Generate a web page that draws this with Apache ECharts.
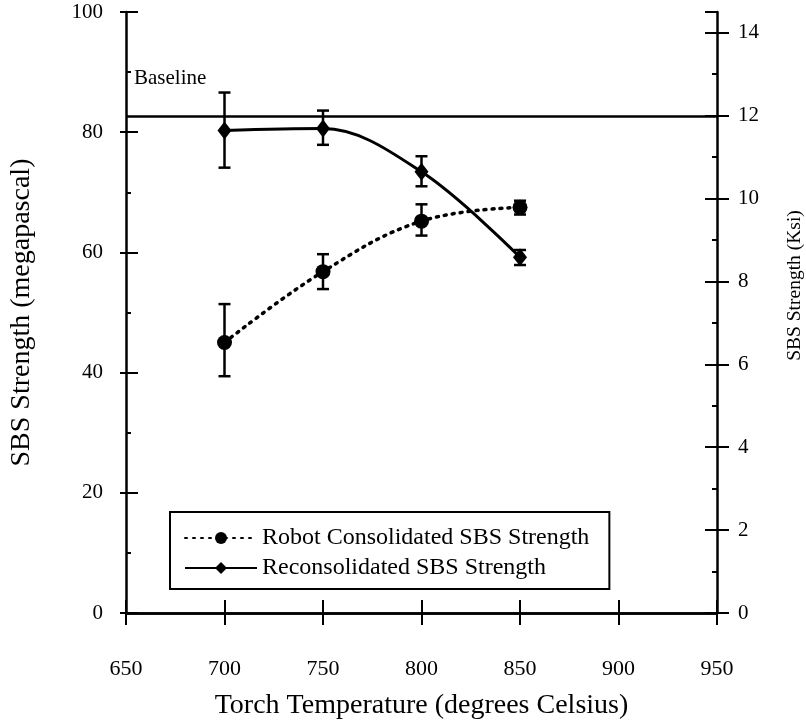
<!DOCTYPE html>
<html>
<head>
<meta charset="utf-8">
<script src="https://cdn.jsdelivr.net/npm/echarts@6/dist/echarts.min.js"></script>
<style>
  html, body { margin: 0; padding: 0; background: #fff; }
  #chart { width: 806px; height: 726px; }
</style>
</head>
<body>
<div id="chart"></div>
<script>
// data (MPa on the left axis)
const temps = [700, 750, 800, 850];
const robotMpa = [45.0, 56.8, 65.2, 67.5];
const robotLow = [39.4, 53.9, 62.8, 66.3];
const robotHigh = [51.4, 59.7, 68.0, 68.6];
const reconMpa = [80.3, 80.6, 73.4, 59.2];
const reconLow = [74.1, 77.9, 71.0, 57.9];
const reconHigh = [86.6, 83.6, 76.0, 60.4];
const baselineMpa = 82.7;
const ksiMax = 14.5; // 100 MPa in ksi

const font = 'Liberation Serif';
const black = '#000';

let chart = echarts.init(document.getElementById('chart'));

function errBars(lo, hi) {
  return temps.map((t, i) => [t, lo[i], hi[i]]);
}

function renderErr(params, api) {
  let top = api.coord([api.value(0), api.value(2)]);
  let bot = api.coord([api.value(0), api.value(1)]);
  let w = 6;
  let st = { stroke: black, lineWidth: 2.5 };
  return {
    type: 'group',
    children: [
      { type: 'line', shape: { x1: top[0], y1: top[1], x2: bot[0], y2: bot[1] }, style: st },
      { type: 'line', shape: { x1: top[0] - w, y1: top[1], x2: top[0] + w, y2: top[1] }, style: st },
      { type: 'line', shape: { x1: bot[0] - w, y1: bot[1], x2: bot[0] + w, y2: bot[1] }, style: st }
    ]
  };
}

const xBase = { type: 'value', min: 650, max: 950, interval: 50, splitLine: { show: false } };
const leftBase = { type: 'value', min: 0, max: 100, interval: 20, position: 'left', splitLine: { show: false } };
const rightBase = { type: 'value', min: 0, max: ksiMax, interval: 2, position: 'right', splitLine: { show: false } };

chart.setOption({
  backgroundColor: '#fff',
  animation: false,
  textStyle: { fontFamily: font, color: black },
  grid: { left: 126, right: 89, top: 12, bottom: 113, outerBoundsMode: 'none', containLabel: false },
  legend: {
    data: ['Robot Consolidated SBS Strength', 'Reconsolidated SBS Strength'],
    orient: 'vertical',
    left: 170,
    top: 512,
    padding: [14, 20, 9, 14],
    itemGap: 6,
    itemWidth: 72,
    itemHeight: 15,
    itemTextGap: 8,
    borderColor: black,
    borderWidth: 2,
    backgroundColor: '#fff',
    textStyle: { fontFamily: font, fontSize: 24, color: black }
  },
  xAxis: [
    Object.assign({}, xBase, {
      position: 'bottom',
      name: 'Torch Temperature (degrees Celsius)',
      nameLocation: 'middle',
      nameGap: 79,
      nameTextStyle: { fontFamily: font, fontSize: 28, color: black },
      axisLine: { lineStyle: { color: black, width: 2.5 } },
      axisTick: { inside: true, length: 13, lineStyle: { color: black, width: 2 } },
      axisLabel: { margin: 45, fontFamily: font, fontSize: 22, color: black }
    }),
    Object.assign({}, xBase, {
      position: 'top',
      axisLine: { lineStyle: { color: black, width: 2.5 } },
      axisTick: { inside: true, length: 12, lineStyle: { color: black, width: 2 } },
      axisLabel: { show: false }
    })
  ],
  yAxis: [
    Object.assign({}, leftBase, {
      name: 'SBS Strength (megapascal)',
      nameLocation: 'middle',
      nameRotate: 90,
      nameGap: 90,
      nameTextStyle: { fontFamily: font, fontSize: 28, color: black },
      axisLine: { show: true, lineStyle: { color: black, width: 2.5 } },
      axisTick: { show: true, length: 6, lineStyle: { color: black, width: 2 } },
      axisLabel: { margin: 23, fontFamily: font, fontSize: 21, color: black }
    }),
    Object.assign({}, rightBase, {
      name: 'SBS Strength (Ksi)',
      nameLocation: 'middle',
      nameRotate: 90,
      nameGap: 68,
      nameTextStyle: { fontFamily: font, fontSize: 19.5, color: black, padding: [0, 0, 0, 54] },
      axisLine: { show: true, lineStyle: { color: black, width: 2.5 } },
      axisTick: { show: true, length: 12, lineStyle: { color: black, width: 2 } },
      axisLabel: {
        margin: 21, fontFamily: font, fontSize: 21, color: black, showMaxLabel: false,
        formatter: v => (v % 2 === 0 ? String(v) : '')
      }
    }),
    // inner halves of the crossing ticks
    Object.assign({}, leftBase, {
      axisLine: { show: false },
      axisTick: { show: true, inside: true, length: 12, lineStyle: { color: black, width: 2 } },
      minorTick: { show: true, splitNumber: 2, length: 5, lineStyle: { color: black, width: 2 } },
      axisLabel: { show: false }
    }),
    Object.assign({}, rightBase, {
      axisLine: { show: false },
      axisTick: { show: true, inside: true, length: 12, lineStyle: { color: black, width: 2 } },
      minorTick: { show: true, splitNumber: 2, length: 5, lineStyle: { color: black, width: 2 } },
      axisLabel: { show: false, showMaxLabel: false }
    })
  ],
  series: [
    {
      name: 'Robot Consolidated SBS Strength',
      type: 'line',
      smooth: 0.4,
      data: temps.map((t, i) => [t, robotMpa[i]]),
      symbol: 'circle',
      symbolSize: 15,
      itemStyle: { color: black },
      lineStyle: { color: black, width: 3.5, type: [2, 6], cap: 'round' },
      z: 3
    },
    {
      name: 'Reconsolidated SBS Strength',
      type: 'line',
      smooth: 0.35,
      data: temps.map((t, i) => [t, reconMpa[i]]),
      symbol: 'diamond',
      symbolSize: [14, 18],
      itemStyle: { color: black },
      lineStyle: { color: black, width: 3 },
      markLine: {
        silent: true,
        symbol: 'none',
        lineStyle: { color: black, width: 2.5, type: 'solid' },
        label: {
          show: true,
          position: 'insideStartTop',
          formatter: 'Baseline',
          fontFamily: font,
          fontSize: 21,
          color: black,
          distance: [8, 27]
        },
        data: [{ yAxis: baselineMpa }]
      },
      z: 3
    },
    {
      type: 'custom',
      renderItem: renderErr,
      data: errBars(robotLow, robotHigh),
      encode: { x: 0, y: [1, 2] },
      z: 2
    },
    {
      type: 'custom',
      renderItem: renderErr,
      data: errBars(reconLow, reconHigh),
      encode: { x: 0, y: [1, 2] },
      z: 2
    }
  ]
});
</script>
</body>
</html>
